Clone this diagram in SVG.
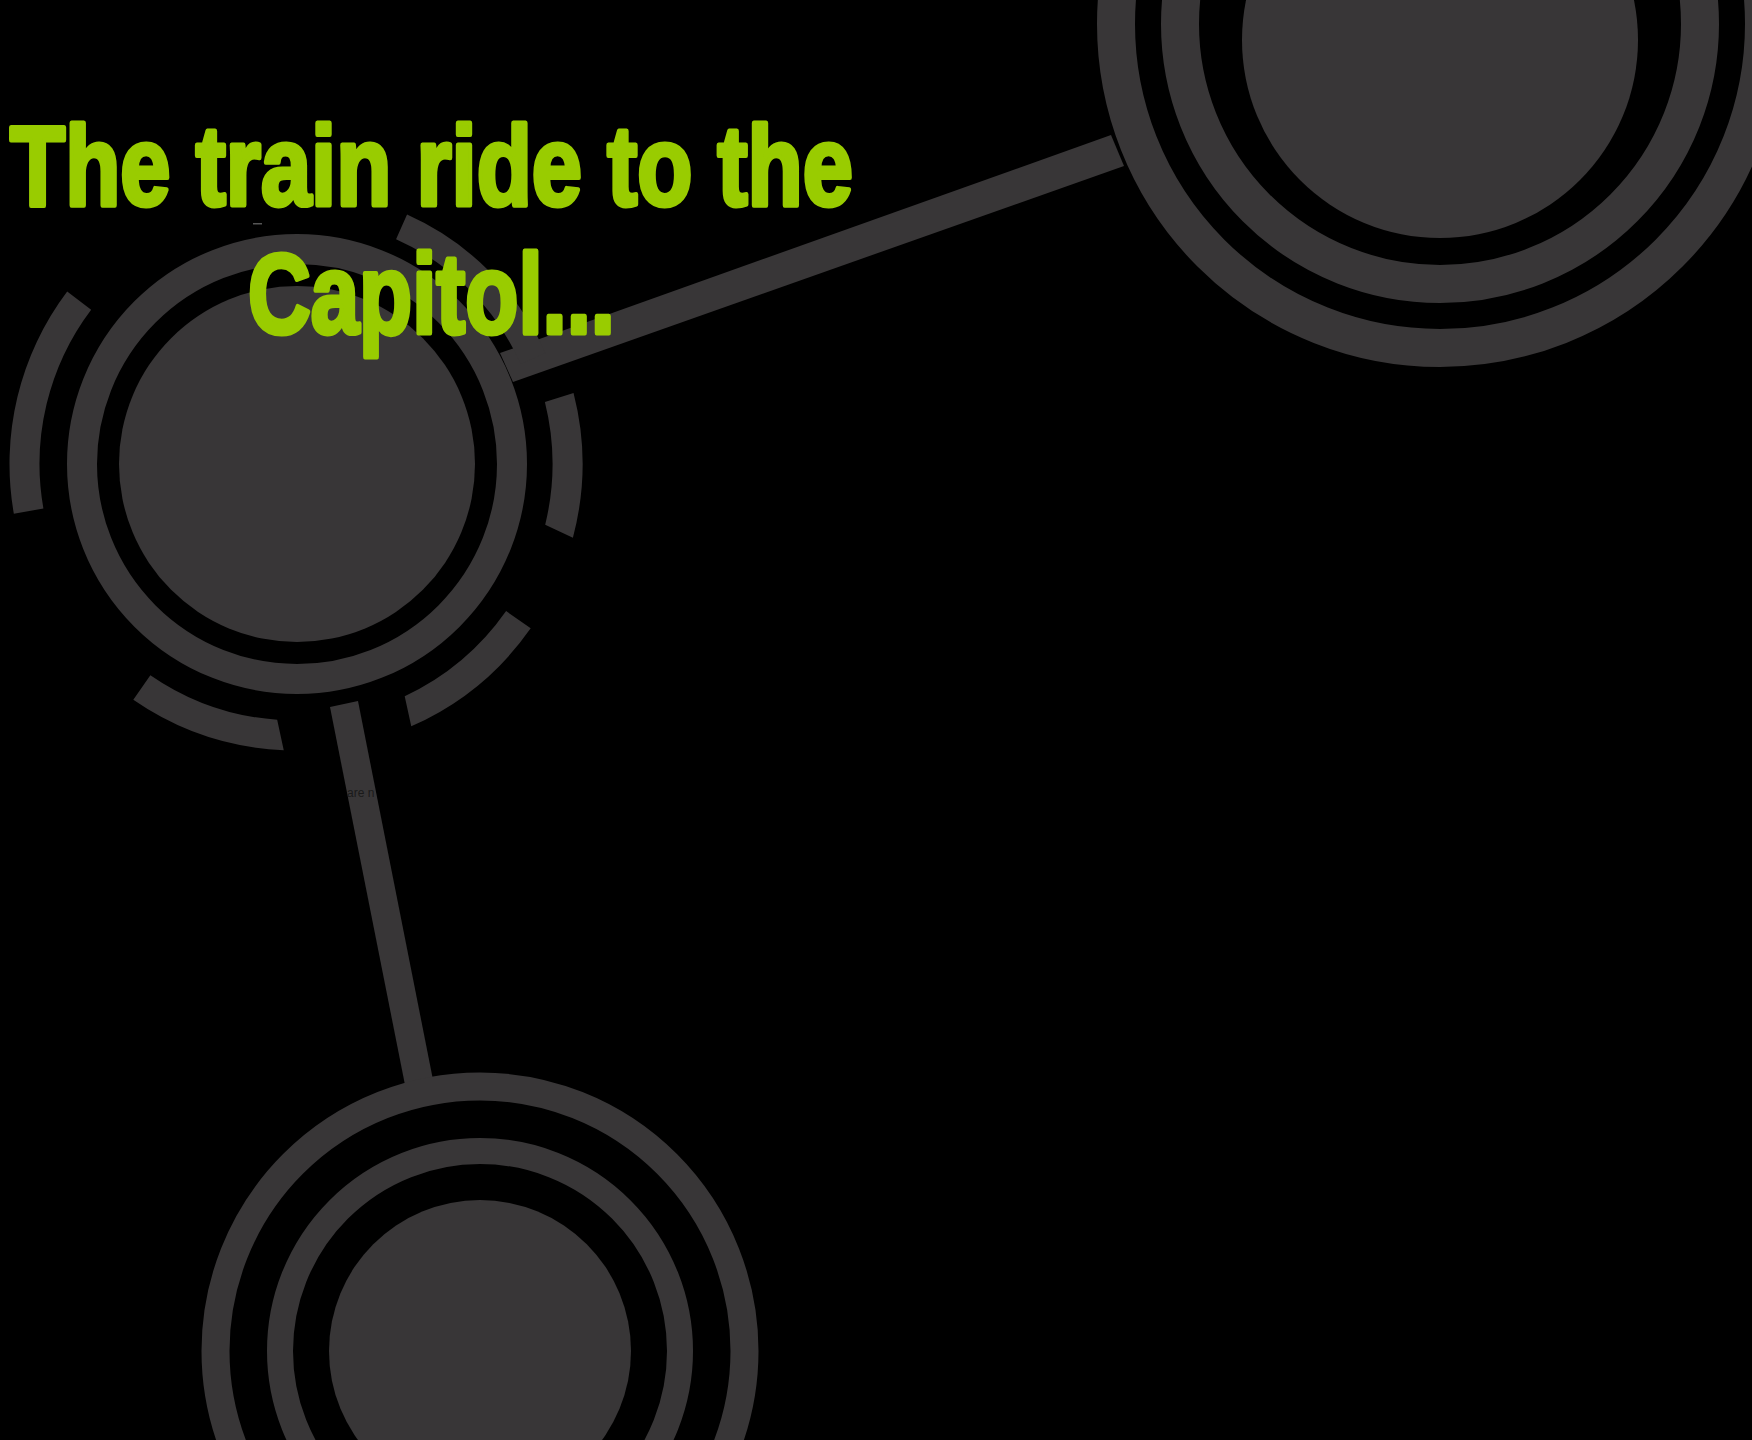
<svg xmlns="http://www.w3.org/2000/svg" width="1752" height="1440" viewBox="0 0 1752 1440">
  <style>
    .disc { fill: #383637; }
    .ring { fill: none; stroke: #383637; }
    .arc { fill: #383637; }
    .conn { fill: #383637; }
    .title { font-family: "Liberation Sans Narrow", "Liberation Sans", Arial, sans-serif; font-weight: bold; font-size: 114px; fill: #99cc00; stroke: #99cc00; stroke-width: 5; stroke-linejoin: round; }
    .small { font-family: "Liberation Sans", Arial, sans-serif; font-size: 12px; fill: #1a1a1a; }
  </style>
  <rect x="0" y="0" width="1752" height="1440" fill="#000000"/>

  <g id="connectors">
    <polygon class="conn" points="500,353 1111,135 1124,166 513,382"/>
    <polygon class="conn" points="330,707 358,701 435,1090 407,1095"/>
  </g>

  <g id="node-top-right">
    <circle class="ring" cx="1440" cy="24" r="324" stroke-width="38"/>
    <circle class="ring" cx="1440" cy="24" r="260" stroke-width="38"/>
    <circle class="disc" cx="1440" cy="40" r="198"/>
  </g>

  <g id="node-left">
    <circle class="disc" cx="297" cy="464" r="178"/>
    <circle class="ring" cx="297" cy="464" r="215" stroke-width="30"/>
    <path class="arc" d="M 13.85 513.75 A 286.5 286.5 0 0 1 67.19 291.58 L 91.15 309.63 A 256.5 256.5 0 0 0 43.40 508.54 Z"/>
    <path class="arc" d="M 407.04 214.60 A 273 273 0 0 1 545.40 352.96 L 520.73 363.94 A 246 246 0 0 0 396.06 239.27 Z"/>
    <path class="arc" d="M 573.54 392.90 A 286.5 286.5 0 0 1 572.9 537.7 L 545.2 524.7 A 256.5 256.5 0 0 0 544.89 401.99 Z"/>
    <path class="arc" d="M 530.69 628.33 A 286.5 286.5 0 0 1 411.26 726.29 L 404.70 696.33 A 256.5 256.5 0 0 0 506.11 611.12 Z"/>
    <path class="arc" d="M 283.75 750.24 A 286.5 286.5 0 0 1 133.31 699.83 L 150.35 675.14 A 256.5 256.5 0 0 0 277.17 719.81 Z"/>
    <rect x="253" y="223" width="9" height="1.5" fill="#555555"/>
  </g>

  <g id="node-bottom">
    <circle class="ring" cx="480" cy="1351" r="264.5" stroke-width="28"/>
    <circle class="ring" cx="480" cy="1351" r="200" stroke-width="26"/>
    <circle class="disc" cx="480" cy="1351" r="151"/>
  </g>

  <g id="title">
    <text class="title" x="10" y="205" textLength="843" lengthAdjust="spacingAndGlyphs">The train ride to the</text>
    <text class="title" x="248" y="333" textLength="367" lengthAdjust="spacingAndGlyphs">Capitol...</text>
  </g>
  <text class="small" x="347" y="797">are n</text>
</svg>
